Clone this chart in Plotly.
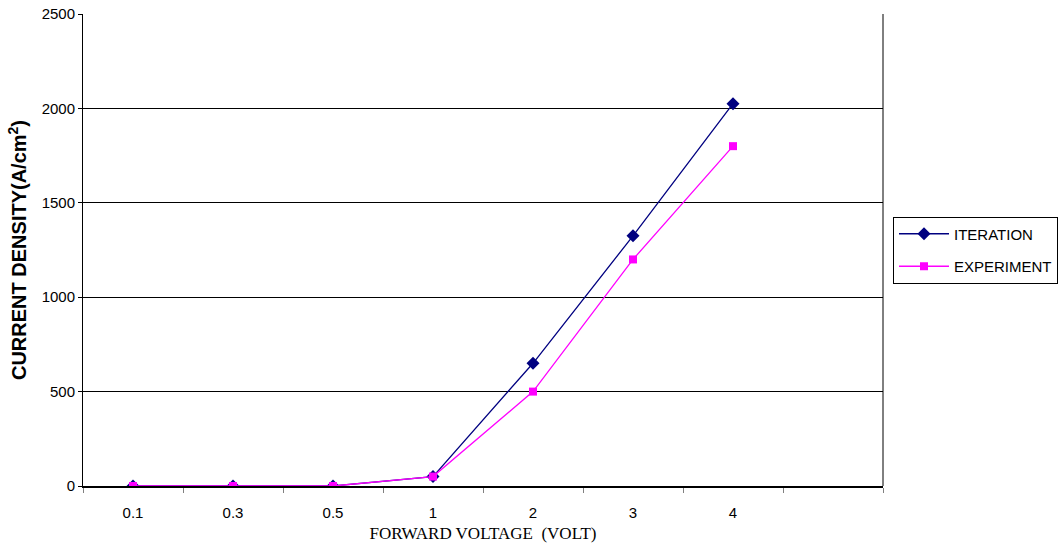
import plotly.graph_objects as go

voltage_labels = ["0.1", "0.3", "0.5", "1", "2", "3", "4"]
category_order = ["0.1", "0.3", "0.5", "1", "2", "3", "4", " "]
iteration = [0, 0, 0, 50, 650, 1325, 2025]
experiment = [0, 0, 0, 50, 500, 1200, 1800]

fig = go.Figure()
fig.add_trace(go.Scatter(
    x=voltage_labels, y=iteration, name="ITERATION", mode="lines+markers",
    legendgroup="a",
    line=dict(color="#000080", width=1.3),
    marker=dict(symbol="diamond", size=10, color="#000080"),
))
fig.add_trace(go.Scatter(
    x=voltage_labels, y=experiment, name="EXPERIMENT", mode="lines+markers",
    legendgroup="b",
    line=dict(color="#FF00FF", width=1.3),
    marker=dict(symbol="square", size=8, color="#FF00FF"),
))

fig.update_layout(
    width=1064, height=551,
    margin=dict(l=83, r=181, t=14, b=65),
    paper_bgcolor="white", plot_bgcolor="white",
    font=dict(family="Liberation Sans, Arial, sans-serif", size=15, color="black"),
    legend=dict(
        xref="container", yref="container",
        x=893 / 1064, xanchor="left", y=(551 - 250) / 551, yanchor="middle",
        bordercolor="black", borderwidth=1, bgcolor="white",
        font=dict(family="Liberation Sans, Arial, sans-serif", size=15),
        tracegroupgap=10, itemwidth=50,
    ),
    xaxis=dict(
        type="category", categoryorder="array", categoryarray=category_order,
        range=[-0.5, 7.5], tickson="boundaries", ticks="outside", ticklen=5,
        tickcolor="#808080", showline=True, linecolor="black", linewidth=2,
        mirror=False, showgrid=False, zeroline=False, automargin=False,
        ticklabelstandoff=12,
        tickfont=dict(family="Liberation Sans, Arial, sans-serif", size=15),
        title=dict(text="FORWARD VOLTAGE&nbsp;&nbsp;(VOLT)",
                   font=dict(family="Liberation Serif, Times New Roman, serif", size=17),
                   standoff=7),
    ),
    yaxis=dict(
        range=[0, 2500], dtick=500, ticks="outside", ticklen=4,
        tickcolor="black", showline=True, linecolor="black", linewidth=1,
        showgrid=True, gridcolor="black", gridwidth=1, zeroline=False,
        automargin=False,
        tickfont=dict(family="Liberation Sans, Arial, sans-serif", size=15),
        title=dict(text="<b>CURRENT DENSITY(A/cm<sup>2</sup>)</b>",
                   font=dict(family="Liberation Sans, Arial, sans-serif", size=20),
                   standoff=9),
    ),
)

# right border of plot area
fig.add_shape(type="line", xref="paper", yref="paper", x0=1, x1=1, y0=0, y1=1,
              line=dict(color="black", width=1))

fig.write_html("out.html")
